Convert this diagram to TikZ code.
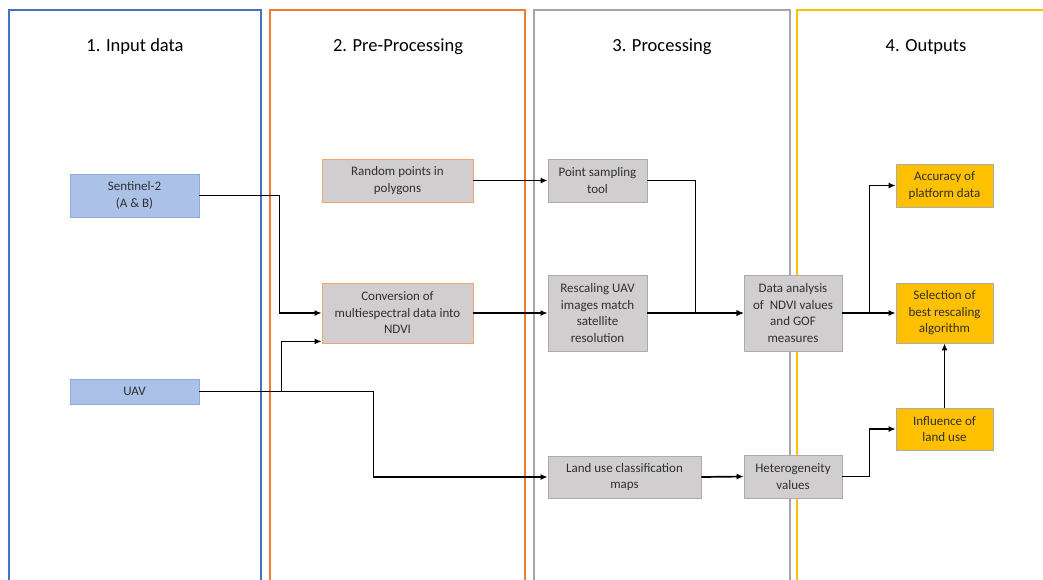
\documentclass[tikz,border=0pt]{standalone}
\usepackage{fontspec}
\setmainfont{Carlito}
\usetikzlibrary{arrows.meta}
\definecolor{pblue}{HTML}{4472C4}
\definecolor{porange}{HTML}{ED7D31}
\definecolor{pgray}{HTML}{A5A5A5}
\definecolor{pgold}{HTML}{FFC000}
\definecolor{bluefill}{HTML}{ABC1E7}
\definecolor{blueline}{HTML}{8FAADC}
\definecolor{grayfill}{HTML}{D0CECE}
\definecolor{grayline}{HTML}{AFABAB}
\definecolor{orline}{HTML}{F4A46E}
\definecolor{txt}{HTML}{303030}
\begin{document}
\begin{tikzpicture}[x=1pt,y=-1pt,
  panel/.style={line width=2.2pt},
  ttl/.style={font=\fontsize{18.5}{20}\selectfont, text=black},
  box/.style={draw, line width=0.8pt, align=center, inner sep=0pt,
    font=\fontsize{13}{16.5}\selectfont, text=txt},
  inbox/.style={box, fill=bluefill, draw=blueline},
  prebox/.style={box, fill=grayfill, draw=orline},
  procbox/.style={box, fill=grayfill, draw=grayline},
  outbox/.style={box, fill=pgold, draw=grayline},
  arr/.style={draw=black, line width=1.7pt, -{Latex[length=7pt,width=6pt]}}]
\useasboundingbox (0,0) rectangle (1043,579);
\fill[white] (0,0) rectangle (1043,579);
% panels
\draw[panel, pblue] (9,590) -- (9,10) -- (261,10) -- (261,590);
\draw[panel, porange] (270,590) -- (270,10) -- (525,10) -- (525,590);
\draw[panel, pgray] (534,590) -- (534,10) -- (790,10) -- (790,590);
\draw[panel, pgold] (797,590) -- (797,10) -- (1060,10);
\node[ttl] (t1) at (135,47) {1. Input data};
\node[ttl] (t2) at (398,47) {2. Pre-Processing};
\node[ttl] (t3) at (662,47) {3. Processing};
\node[ttl] (t4) at (926,47) {4. Outputs};
% boxes
\node[inbox, minimum width=129, minimum height=43] (sen) at (134.5,195.5) {Sentinel-2\\(A \& B)};
\node[inbox, minimum width=129, minimum height=25] (uav) at (134.5,391.5) {UAV};
\node[prebox, minimum width=151, minimum height=43] (rand) at (397.5,180.5) {Random points in\\polygons};
\node[prebox, minimum width=151, minimum height=60] (conv) at (397.5,313) {Conversion of\\multiespectral data into\\NDVI};
\node[procbox, minimum width=99, minimum height=43] (pst) at (597.5,180.5) {Point sampling\\tool};
\node[procbox, minimum width=99, minimum height=76] (resc) at (597.5,313) {Rescaling UAV\\images match\\satellite\\resolution};
\node[procbox, minimum width=153, minimum height=42] (land) at (624.5,477) {Land use classification\\maps};
\node[procbox, minimum width=98, minimum height=76] (data) at (793,313) {Data analysis\\of\ \ NDVI values\\and GOF\\measures};
\node[procbox, minimum width=98, minimum height=43] (het) at (793,476.5) {Heterogeneity\\values};
\node[outbox, minimum width=97, minimum height=43] (acc) at (944.5,185.5) {Accuracy of\\platform data};
\node[outbox, minimum width=97, minimum height=60] (sel) at (944.5,313) {Selection of\\best rescaling\\algorithm};
\node[outbox, minimum width=97, minimum height=42] (infl) at (944.5,429) {Influence of\\land use};
% connectors
\draw[arr] (sen.east) -- ++(80,0) |- (conv.west);
\draw[arr] (uav.east) -- ++(82,0) |- ([yshift=2pt]conv.south west);
\draw[arr] (uav.east) -- ++(174,0) |- (land.west);
\draw[arr] (rand.east) -- (pst.west);
\draw[arr] (conv.east) -- (resc.west);
\draw[arr] (pst.east) -- ++(48,0) |- (data.west);
\draw[arr] (resc.east) -- (data.west);
\draw[arr] (land.east) -- (het.west);
\draw[arr] (data.east) -- (sel.west);
\draw[arr] (data.east) -- ++(27,0) |- (acc.west);
\draw[arr] (het.east) -- ++(27,0) |- (infl.west);
\draw[arr] (infl.north) -- (sel.south);
\end{tikzpicture}
\end{document}
